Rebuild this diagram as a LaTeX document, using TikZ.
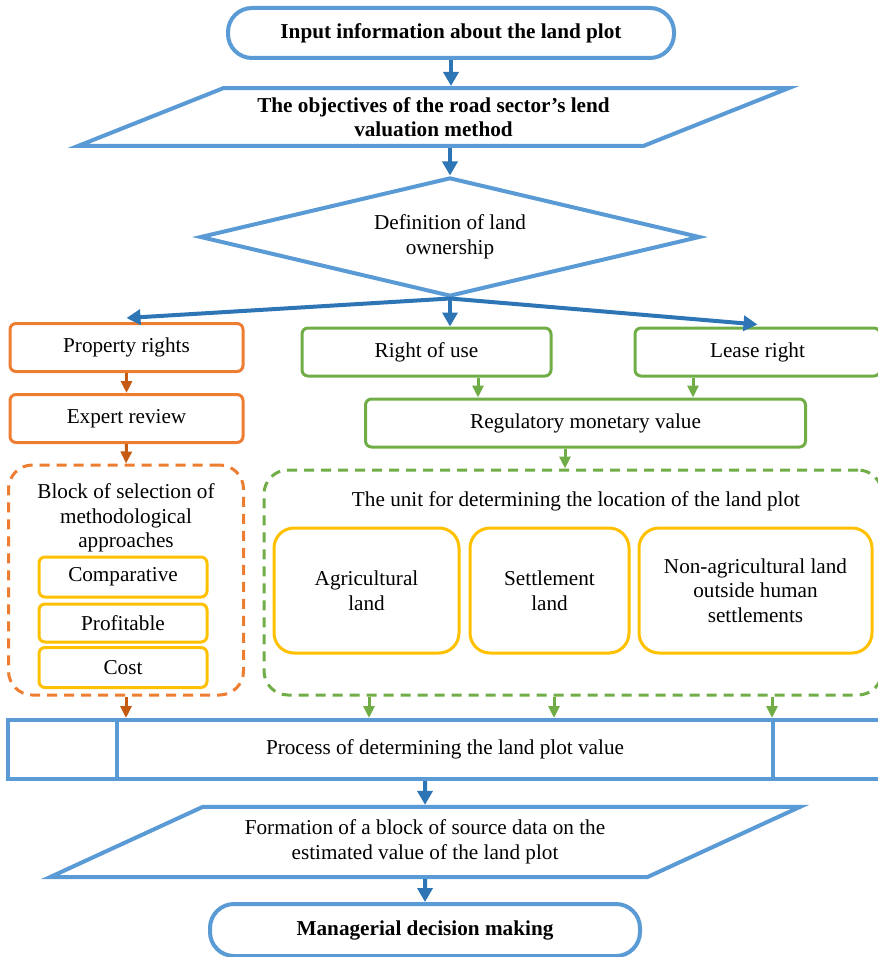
\documentclass[tikz,border=0pt]{standalone}
\usepackage{fontspec}
\setmainfont{Liberation Serif}
\usetikzlibrary{arrows.meta,shapes.geometric}
\definecolor{lineblue}{HTML}{5B9BD5}
\definecolor{arrowblue}{HTML}{2E75B6}
\definecolor{boxorange}{HTML}{ED7D31}
\definecolor{arroworange}{HTML}{C55A11}
\definecolor{boxgreen}{HTML}{70AD47}
\definecolor{boxyellow}{HTML}{FFC000}

\begin{document}
\begin{tikzpicture}[x=0.5pt,y=-0.5pt,
  every node/.style={font=\fontsize{10.6}{12.3}\selectfont,align=center,inner sep=0pt},
  term/.style={draw=lineblue,line width=2pt,rounded corners=12pt,minimum width=223pt,minimum height=25pt,font=\fontsize{10.6}{12.3}\selectfont\bfseries},
  io/.style={trapezium,trapezium stretches body,draw=lineblue,line width=2pt},
  decision/.style={diamond,aspect=4.2,draw=lineblue,line width=2pt,minimum width=250pt,minimum height=59.5pt},
  obox/.style={draw=boxorange,line width=1.5pt,rounded corners=3pt,minimum width=116.5pt,minimum height=24pt},
  gbox/.style={draw=boxgreen,line width=1.5pt,rounded corners=3pt,minimum height=24pt},
  ybox/.style={draw=boxyellow,line width=1.5pt,rounded corners=3pt,minimum width=84pt,minimum height=20pt},
  ybig/.style={draw=boxyellow,line width=1.5pt,rounded corners=10pt,minimum height=62.5pt},
  oframe/.style={draw=boxorange,line width=1.5pt,dash pattern=on 5pt off 3.5pt,rounded corners=12pt},
  gframe/.style={draw=boxgreen,line width=1.5pt,dash pattern=on 5pt off 3.5pt,rounded corners=12pt},
  procbox/.style={draw=lineblue,line width=2pt,minimum width=437pt,minimum height=29.5pt},
  barrow/.style={-{Triangle[length=7pt,width=7.5pt]},line width=2pt,arrowblue},
  oarrow/.style={-{Triangle[length=6pt,width=5.5pt]},line width=1.5pt,arroworange},
  garrow/.style={-{Triangle[length=6pt,width=5.5pt]},line width=1.5pt,boxgreen}]
  \useasboundingbox (0,0) rectangle (877,957);
  \node[term] (start) at (451,33) {Input information about the land plot};
  \node[io,trapezium left angle=21.7,trapezium right angle=158.3,minimum width=355.5pt,inner ysep=4.55pt,font=\fontsize{10.6}{12.3}\selectfont\bfseries] (obj) at (433.5,117) {The objectives of the road sector's lend\\valuation method};
  \node[decision] (dia) at (450,237) {Definition of land\\ownership};
  \node[obox] (prop) at (126.5,347.5) {Property rights};
  \node[gbox,minimum width=124.5pt] (use) at (426.5,352) {Right of use};
  \node[gbox,minimum width=122.5pt] (lease) at (757.5,352) {Lease right};
  \node[obox] (expert) at (126.5,418.5) {Expert review};
  \node[gbox,minimum width=220pt] (reg) at (585.5,423) {Regulatory monetary value};
  % approaches block
  \node[oframe,minimum width=117.5pt,minimum height=115pt] (block) at (126,580) {};
  \node (blocklbl) at (126,518) {Block of selection of\\methodological\\approaches};
  \node[ybox] (comp) at (123,577) {Comparative};
  \node[ybox,minimum height=19pt] (prof) at (123,623) {Profitable};
  \node[ybox] (cost) at (123,667.5) {Cost};
  % location unit
  \node[gframe,minimum width=309pt,minimum height=112.5pt] (unit) at (573,582.5) {};
  \node (unitlbl) at (576,501) {The unit for determining the location of the land plot};
  \node[ybig,minimum width=92.5pt] (agri) at (366.5,590.5) {Agricultural\\land};
  \node[ybig,minimum width=79.5pt] (settl) at (549.5,590.5) {Settlement\\land};
  \node[ybig,minimum width=116.5pt] (nonag) at (755.5,590.5) {Non-agricultural land\\outside human\\settlements};
  \node[procbox] (proc) at (445,749.5) {Process of determining the land plot value};
  \draw[lineblue,line width=2pt] ([xshift=55.5pt]proc.north west) -- ([xshift=55.5pt]proc.south west);
  \draw[lineblue,line width=2pt] ([xshift=-55.5pt]proc.north east) -- ([xshift=-55.5pt]proc.south east);
  \node[io,trapezium left angle=24.7,trapezium right angle=155.3,minimum width=375pt,inner ysep=6.55pt] (form) at (425,842) {Formation of a block of source data on the\\estimated value of the land plot};
  \node[term,minimum width=215pt,minimum height=26pt] (end) at (425,930) {Managerial decision making};
  % connectors
  \draw[barrow] (start.south) -- (start.south |- obj.north);
  \draw[barrow] (obj.south -| dia.north) -- (dia.north);
  \draw[barrow] (dia.south) -- ([yshift=2pt]prop.north);
  \draw[barrow] (dia.south) -- (dia.south |- use.north);
  \draw[barrow] (dia.south) -- ([yshift=1pt]lease.north);
  \draw[oarrow] (prop.south) -- (expert.north);
  \draw[oarrow] (expert.south) -- (block.north);
  \draw[garrow] ([xshift=25.75pt]use.south) -- ([xshift=25.75pt]use.south |- reg.north);
  \draw[garrow] ([xshift=-32.25pt]lease.south) -- ([xshift=-32.25pt]lease.south |- reg.north);
  \draw[garrow] ([xshift=-10.25pt]reg.south) -- ([xshift=-10.25pt]reg.south |- unit.north);
  \draw[oarrow] (block.south) -- (block.south |- proc.north);
  \draw[garrow] ([xshift=-102pt]unit.south) -- ([xshift=-102pt]unit.south |- proc.north);
  \draw[garrow] ([xshift=-9.5pt]unit.south) -- ([xshift=-9.5pt]unit.south |- proc.north);
  \draw[garrow] ([xshift=99.5pt]unit.south) -- ([xshift=99.5pt]unit.south |- proc.north);
  \draw[barrow] ([xshift=-10pt]proc.south) -- (form.north);
  \draw[barrow] (form.south) -- (end.north);
\end{tikzpicture}
\end{document}
